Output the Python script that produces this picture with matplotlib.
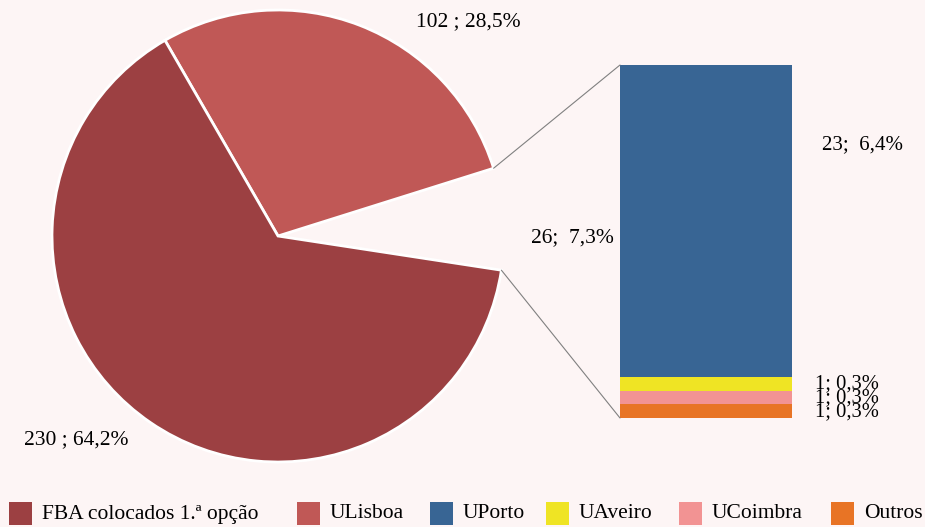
import matplotlib.pyplot as plt
from matplotlib.patches import ConnectionPatch, Rectangle
import numpy as np

plt.rcParams['font.family'] = ['Liberation Serif', 'DejaVu Serif']

# pie data
pie_labels = ['Outros destinos', 'ULisboa', 'FBA colocados 1.ª opção']
pie_values = [26, 102, 230]
pie_text = ['26;  7,3%', '102 ; 28,5%', '230 ; 64,2%']

# bar (detail of the 26)
bar_labels = ['Outros', 'UCoimbra', 'UAveiro', 'UPorto']
bar_values = [1, 1, 1, 23]
bar_text = ['1; 0,3%', '1; 0,3%', '1; 0,3%', '23;  6,4%']

# legend
leg_names = ['FBA colocados 1.ª opção', 'ULisboa', 'UPorto', 'UAveiro', 'UCoimbra', 'Outros']

bg = '#FDF5F5'
c_fba = '#9C4042'
c_ulis = '#C05856'
bar_colors = ['#E87425', '#F29393', '#EFE424', '#386594']
leg_colors = [c_fba, c_ulis, '#386594', '#EFE424', '#F29393', '#E87425']

fig = plt.figure(figsize=(9.25, 5.27), dpi=100, facecolor=bg)
W, H = 925, 527

# pie axes, centre ~ (278,236) px, radius ~226 px
cx, cy, r = 278, 236, 226
ax1 = fig.add_axes([(cx - r) / W, (H - cy - r) / H, 2 * r / W, 2 * r / H])
ax1.set_facecolor(bg)
startang = -8.7
wedges, _ = ax1.pie(pie_values, startangle=startang, counterclock=True,
                    colors=[bg, c_ulis, c_fba], radius=1,
                    wedgeprops=dict(edgecolor='white', linewidth=2))
wedges[0].set_edgecolor(bg)
wedges[0].set_linewidth(0)
ax1.set_xlim(-1, 1)
ax1.set_ylim(-1, 1)
ax1.axis('off')

fs = 15.5
ax1.text(0.84, 0.947, pie_text[1], ha='center', va='center', fontsize=fs)
ax1.text(-0.894, -0.903, pie_text[2], ha='center', va='center', fontsize=fs)
ax1.text(1.305, -0.009, pie_text[0], ha='center', va='center', fontsize=fs)

# bar axes
bx0, bx1, by0, by1 = 620, 792, 65, 418
ax2 = fig.add_axes([bx0 / W, (H - by1) / H, (bx1 - bx0) / W, (by1 - by0) / H])
ax2.set_facecolor(bg)
bottom = 0
for val, col, txt in zip(bar_values, bar_colors, bar_text):
    ax2.bar(0, val, width=1, bottom=bottom, color=col)
    if val == 1:
        ax2.text(0.634, bottom + val / 2, txt, ha='left', va='center',
                 fontsize=14.8)
    bottom += val
ax2.text(0.907, 20.1, bar_text[3], ha='center', va='center', fontsize=15)
ax2.set_xlim(-0.5, 0.5)
ax2.set_ylim(0, sum(bar_values))
ax2.axis('off')

# connector lines
th1, th2 = wedges[0].theta1, wedges[0].theta2
for th, yb in [(th2, sum(bar_values)), (th1, 0)]:
    x = np.cos(np.radians(th))
    y = np.sin(np.radians(th))
    con = ConnectionPatch(xyA=(-0.5, yb), coordsA=ax2.transData,
                          xyB=(x, y), coordsB=ax1.transData,
                          color='#808080', linewidth=0.8)
    fig.add_artist(con)

# legend, laid out like the original (fixed slots)
leg_x = [9, 297, 430, 546, 679, 831]
for lx, name, col in zip(leg_x, leg_names, leg_colors):
    fig.add_artist(Rectangle((lx / W, (H - 525) / H), 23 / W, 23 / H,
                             transform=fig.transFigure, facecolor=col,
                             edgecolor='none'))
    fig.text((lx + 33) / W, (H - 514) / H, name, ha='left', va='center',
             fontsize=15.5)

fig.savefig('out.png', dpi=100, facecolor=bg)
